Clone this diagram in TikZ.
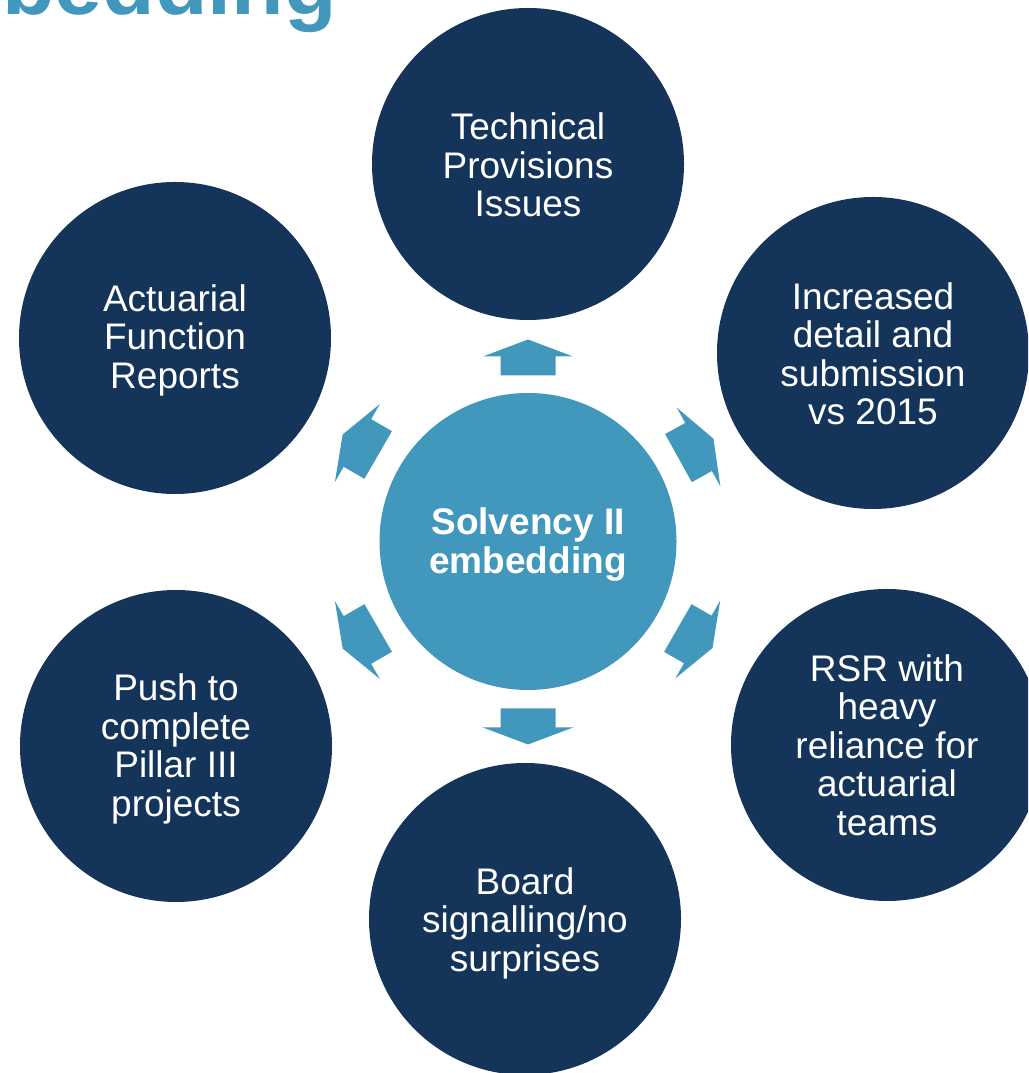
\documentclass[tikz,border=0pt]{standalone}
\usepackage{fontspec}
\setmainfont{Liberation Sans}
\definecolor{navy}{RGB}{21,52,89}
\definecolor{skyblue}{RGB}{66,152,188}
\begin{document}
\begin{tikzpicture}[x=1pt,y=1pt,
  topic/.style={circle, fill=navy, minimum size=312pt, inner sep=0pt},
  topictext/.style={text=white, inner sep=0pt, align=center,
    font=\fontsize{37}{38.5}\selectfont},
  hubnode/.style={circle, fill=skyblue, minimum size=297pt, inner sep=0pt},
  hubtext/.style={text=white, inner sep=0pt, align=center,
    font=\fontsize{37}{38.5}\selectfont\bfseries},
  blockarrow/.style={fill=skyblue}]
\useasboundingbox (0,0) rectangle (1028,1073);
\clip (0,0) rectangle (1028,1073);

% title fragment
\node[anchor=base west, inner sep=0pt, text=skyblue,
      font=\fontsize{86}{90}\selectfont\bfseries] (title) at (2,1058) {bedding};

% central hub
\node[hubnode] (hub) at (528,531.5) {};
\node[hubtext] (hubt) at ([yshift=-3]hub.center) {Solvency II\\embedding};

% surrounding topics
\node[topic] (tp) at (528,909) {};
\node[topic] (ur) at (873,720) {};
\node[topic] (lr) at (887,328) {};
\node[topic] (bt) at (525,154) {};
\node[topic] (ll) at (176,327) {};
\node[topic] (ul) at (175,735) {};

\node[topictext] (tpt) at ([yshift=-1]tp.center) {Technical\\Provisions\\Issues};
\node[topictext] (urt) at ([yshift=-1]ur.center) {Increased\\detail and\\submission\\vs 2015};
\node[topictext] (lrt) at (lr.center) {RSR with\\heavy\\reliance for\\actuarial\\teams};
\node[topictext] (btt) at ([yshift=-4]bt.center) {Board\\signalling/no\\surprises};
\node[topictext] (llt) at ([yshift=-3]ll.center) {Push to\\complete\\Pillar III\\projects};
\node[topictext] (ult) at ([yshift=-2]ul.center) {Actuarial\\Function\\Reports};

% block arrows radiating from the hub: angle / start radius / shaft length
\foreach \ang/\rb/\ls in {90/166/19, 29/172/23, -30/173/23, -90/167/19, -150/173/24, 150/173/24}{
  \fill[blockarrow, shift={(hub.center)}, rotate=\ang]
    (\rb,-27.5) -- ({\rb+\ls},-27.5) -- ({\rb+\ls},-45) -- ({\rb+\ls+17},0)
    -- ({\rb+\ls},45) -- ({\rb+\ls},27.5) -- (\rb,27.5) -- cycle;
}
\end{tikzpicture}
\end{document}
